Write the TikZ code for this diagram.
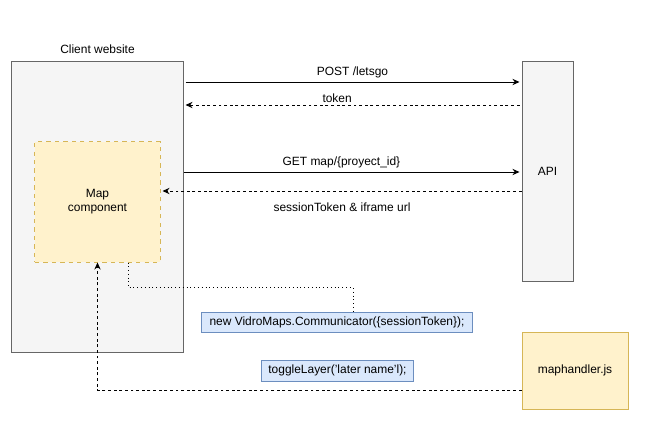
\documentclass[tikz,border=0pt]{standalone}
\usepackage{fontspec}
\setmainfont{Liberation Sans}
\usepackage{tikz}
\usetikzlibrary{arrows.meta}

\definecolor{sitefill}{HTML}{F5F5F5}
\definecolor{sitedraw}{HTML}{666666}
\definecolor{mapfill}{HTML}{FFF2CC}
\definecolor{mapdraw}{HTML}{D6B656}
\definecolor{codefill}{HTML}{DAE8FC}
\definecolor{codedraw}{HTML}{6C8EBF}

\tikzset{
  greybox/.style={draw=sitedraw,fill=sitefill,line width=0.7pt,inner sep=0pt},
  yellowbox/.style={draw=mapdraw,fill=mapfill,line width=0.7pt,inner sep=0pt,align=center},
  bluebox/.style={draw=codedraw,fill=codefill,line width=0.7pt,inner sep=0pt},
  call/.style={line width=0.7pt,-{Stealth[length=5pt,width=4.5pt]}},
  reply/.style={call,dash pattern=on 2pt off 2pt}
}

\begin{document}
\begin{tikzpicture}[x=0.025cm,y=-0.025cm,font=\fontsize{8.5}{10}\selectfont]

    \useasboundingbox (0,0) rectangle (656,439);

    \node[greybox,minimum width=4.275cm,minimum height=7.25cm] (client) at (97.5,207) {};
    \node[above=2pt] (clientlabel) at (client.north) {Client website};

    \node[yellowbox,dashed,minimum width=3.125cm,minimum height=3cm] (map) at (97.5,202)
    {Map\\component};

    \node[greybox,minimum width=1.275cm,minimum height=5.475cm] (api) at (547.5,171.5) {API};

    \node[yellowbox,minimum width=2.65cm,minimum height=1.925cm] (handler) at (575,370.5)
    {maphandler.js};

    \node[bluebox,minimum width=6.75cm,minimum height=0.5cm] (comm) at (337,322)
    {new VidroMaps.Communicator(\{sessionToken\});};

    \node[bluebox,minimum width=3.775cm,minimum height=0.525cm] (toggle) at (337.5,370.5)
    {toggleLayer('later name'l);};



    % requests to the API
    \coordinate (post) at (0,82);
    \coordinate (tok) at (0,105);
    \coordinate (get) at (0,172);
    \coordinate (sess) at (0,191);

    \draw[call] ([xshift=0.05cm]client.east |- post) -- ([xshift=-0.05cm]api.west |- post)
    node[midway,above=-1pt] {POST /letsgo};

    \draw[reply] ([xshift=-0.05cm]api.west |- tok) -- ([xshift=0.05cm]client.east |- tok)
    node[pos=0.546,above=-2pt] {token};

    \draw[call] (client.east |- get) -- ([xshift=-0.05cm]api.west |- get)
    node[pos=0.47,above=-0.5pt] {GET map/\{proyect\_id\}};

    \draw[reply] (api.west |- sess) -- ([xshift=0.05cm]map.east |- sess)
    node[pos=0.5,below=5pt] {sessionToken \& iframe url};



    % map component and scripts
    \draw[dotted,line width=0.7pt] ([xshift=0.7625cm]map.south) -- ++(0,25)
    -| ([xshift=0.4cm]comm.north);

    \draw[reply] ([yshift=-0.4875cm]handler.west) -| (map.south);

\end{tikzpicture}
\end{document}
